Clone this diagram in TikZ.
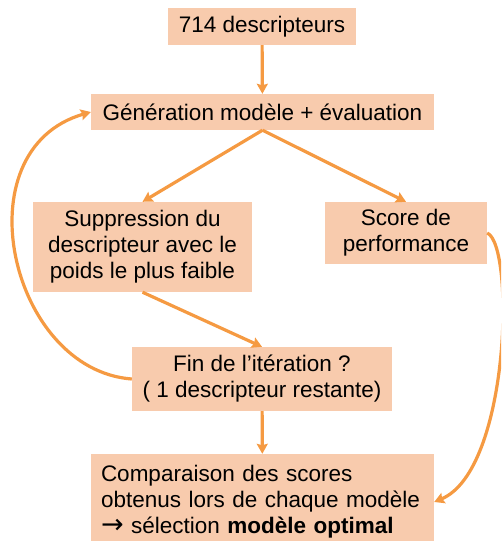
\documentclass[tikz,border=0pt]{standalone}
\usepackage{fontspec}
\setmainfont{Liberation Sans}
\newfontfamily\symfont{DejaVu Sans}
\usepackage{tikz}
\usetikzlibrary{arrows.meta, positioning}
\definecolor{boxfill}{HTML}{F8CBAD}
\definecolor{arrowcol}{HTML}{F59A42}
\tikzstyle{box} = [rectangle, draw=none, fill=boxfill, inner sep=0pt, align=center, font=\fontsize{22.5}{26}\selectfont]
\tikzstyle{arrow} = [line width=3.2pt, draw=arrowcol, -{Stealth[length=10pt, width=11pt, inset=1.5pt]}]

\begin{document}
\begin{tikzpicture}[x=1pt, y=-1pt]
  \path[use as bounding box, clip] (0,0) rectangle (501,541);

  % Boîtes
  \node[box, minimum width=188, minimum height=37] (start) at (262,26.5) {714 descripteurs};
  \node[box, minimum width=343, minimum height=36] (gen) at (262.5,112) {Génération modèle + évaluation};
  \node[box, minimum width=219, minimum height=90] (supp) at (142.5,247) {Suppression du\\descripteur avec le\\poids le plus faible};
  \node[box, minimum width=162, minimum height=62] (score) at (406,233) {Score de\\performance};
  \node[box, minimum width=260, minimum height=64] (fin) at (262,379) {Fin de l’itération ?\\( 1 descripteur restante)};
  \node[box, minimum width=343, minimum height=96, text width=323, align=left] (comp) at (262.5,502) {Comparaison des scores\\obtenus lors de chaque modèle\\{\symfont\fontsize{27}{26}\selectfont →} sélection \textbf{modèle optimal}};

  % Flèches droites
  \draw[arrow] (start) -- (gen);
  \draw[arrow] (gen.south) -- (supp.north);
  \draw[arrow] (gen.south) -- (score.north);
  \draw[arrow] (supp.south) -- (fin.north);
  \draw[arrow] (fin) -- (comp);

  % Boucle à gauche
  \draw[arrow] (fin.west) .. controls (10,370) and (-40,150) .. (gen.west);

  % Score -> comparaison
  \draw[arrow] (score.east) .. controls (515,245) and (510,470) .. (comp.east);
\end{tikzpicture}
\end{document}
